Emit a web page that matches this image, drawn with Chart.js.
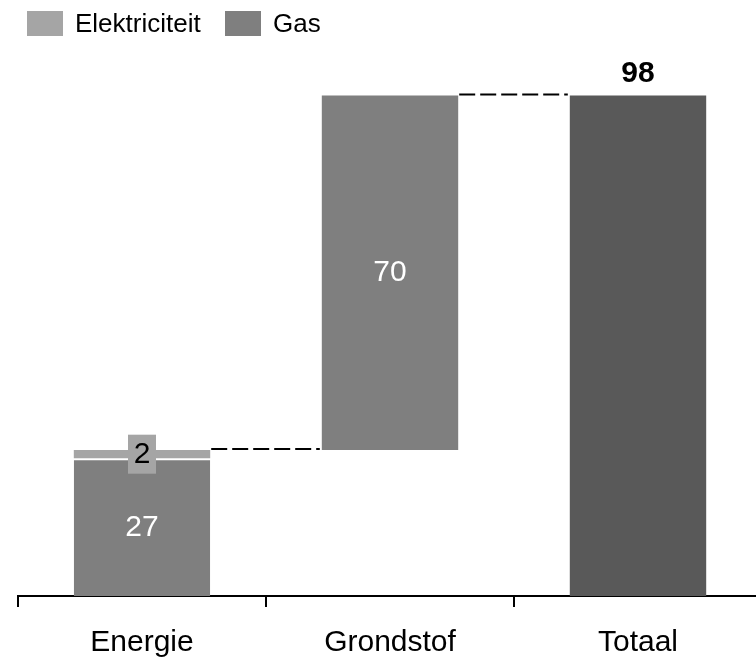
<!DOCTYPE html>
<html>
<head>
<meta charset="utf-8">
<script src="https://cdn.jsdelivr.net/npm/chart.js@4/dist/chart.umd.min.js"></script>
<style>
  html, body { margin: 0; padding: 0; overflow: hidden; background: #fff; }
  #wrap { width: 762px; height: 658px; }
</style>
</head>
<body>
<div id="wrap"><canvas id="wfChart"></canvas></div>
<script>
// waterfall data
var categories = ['Energie', 'Grondstof', 'Totaal'];
var gasValues = [27, null, null];
var elekValues = [1.6, null, null];
var grondstofValue = 69.5;
var totalValue = 98.1;

var fontFam = '"Liberation Sans", Arial, sans-serif';
var energieTop = gasValues[0] + elekValues[0];

// labels, connectors and legend drawn on top of the bars
var overlay = {
  id: 'overlay',
  afterDatasetsDraw: function (chart) {
    var ctx = chart.ctx;
    var y = chart.scales.y;
    var elek = chart.getDatasetMeta(0).data[0];
    var gas = chart.getDatasetMeta(1).data[0];
    var grond = chart.getDatasetMeta(2).data[1];
    var tot = chart.getDatasetMeta(3).data[2];
    ctx.save();

    // dashed connectors
    ctx.strokeStyle = '#000';
    ctx.lineWidth = 2;
    ctx.setLineDash([16, 5]);
    ctx.beginPath();
    var y1 = y.getPixelForValue(energieTop) - 1;
    ctx.moveTo(elek.x + elek.width / 2 + 1, y1);
    ctx.lineTo(grond.x - grond.width / 2 - 2, y1);
    var y2 = y.getPixelForValue(totalValue) - 1;
    ctx.moveTo(grond.x + grond.width / 2 + 1, y2);
    ctx.lineTo(tot.x - tot.width / 2 - 2, y2);
    ctx.stroke();
    ctx.setLineDash([]);

    ctx.textAlign = 'center';
    ctx.textBaseline = 'middle';
    ctx.font = '30px ' + fontFam;

    // gas label
    ctx.fillStyle = '#fff';
    ctx.fillText(Math.round(gasValues[0]), gas.x, (gas.y + 2 + gas.base) / 2);
    // grondstof label
    ctx.fillText(Math.round(grondstofValue), grond.x, (grond.y + grond.base) / 2);

    // elektriciteit label in a box
    var ey = (elek.y + elek.base) / 2;
    ctx.fillStyle = '#a5a5a5';
    ctx.fillRect(elek.x - 14, ey - 19.5, 28, 39);
    ctx.fillStyle = '#000';
    ctx.fillText(Math.round(elekValues[0]), elek.x, ey + 1);

    // total label
    ctx.font = 'bold 30px ' + fontFam;
    ctx.textBaseline = 'alphabetic';
    ctx.fillText(Math.round(totalValue), tot.x, tot.y - 14);

    // legend
    ctx.font = '26px ' + fontFam;
    ctx.textAlign = 'left';
    ctx.textBaseline = 'middle';
    ctx.fillStyle = '#a5a5a5';
    ctx.fillRect(27, 11, 36, 25);
    ctx.fillStyle = '#000';
    ctx.fillText('Elektriciteit', 75, 25);
    ctx.fillStyle = '#7f7f7f';
    ctx.fillRect(225, 11, 36, 25);
    ctx.fillStyle = '#000';
    ctx.fillText('Gas', 273, 25);
    ctx.restore();
  }
};

var ctx = document.getElementById('wfChart').getContext('2d');
var wfChart = new Chart(ctx, {
  type: 'bar',
  data: {
    labels: categories,
    datasets: [{
      label: 'Elektriciteit',
      data: [[gasValues[0], energieTop], null, null],
      backgroundColor: '#a5a5a5',
      borderSkipped: false
    }, {
      label: 'Gas',
      data: gasValues,
      backgroundColor: '#7f7f7f',
      borderColor: '#ffffff',
      borderWidth: { top: 2, left: 0, right: 0, bottom: 0 },
      borderSkipped: false
    }, {
      label: 'Grondstof',
      data: [null, [energieTop, totalValue], null],
      backgroundColor: '#7f7f7f'
    }, {
      label: 'Totaal',
      data: [null, null, totalValue],
      backgroundColor: '#595959'
    }]
  },
  options: {
    responsive: true,
    maintainAspectRatio: false,
    animation: false,
    barPercentage: 0.55,
    categoryPercentage: 1,
    layout: {
      padding: { left: 18, right: 0, top: 40, bottom: 0 }
    },
    plugins: {
      legend: { display: false },
      tooltip: { enabled: false }
    },
    scales: {
      x: {
        stacked: true,
        border: { color: '#000', width: 2 },
        grid: {
          display: true,
          drawOnChartArea: false,
          color: '#000',
          lineWidth: 2,
          tickLength: 11
        },
        ticks: {
          color: '#000',
          padding: 18,
          font: { size: 30, family: fontFam }
        },
        afterFit: function (scale) { scale.height = 62; }
      },
      y: {
        display: false,
        min: 0,
        max: 109
      }
    }
  },
  plugins: [overlay]
});
</script>
</body>
</html>
